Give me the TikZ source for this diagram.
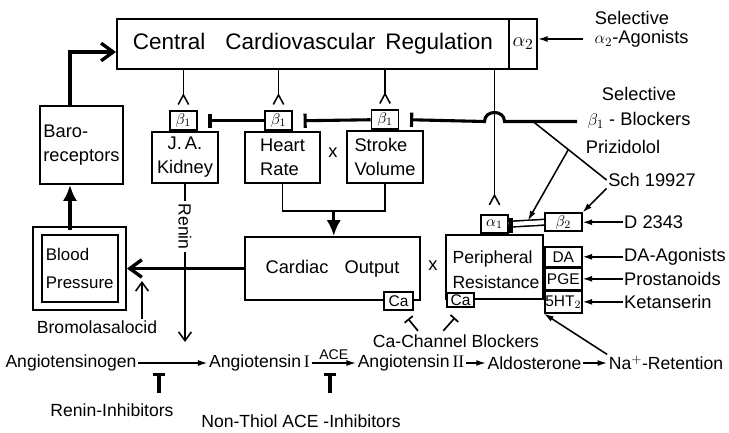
\documentclass[tikz,border=0pt]{standalone}
\usepackage{fontspec}
\setmainfont{Liberation Sans}
\newfontfamily\romfont{Liberation Serif}
\usetikzlibrary{arrows.meta,calc,positioning}
\newcommand\pxu{0.025cm}
\tikzset{wh/.style 2 args={minimum width=#1*\pxu,minimum height=#2*\pxu},
box/.style={draw,line width=1.4pt,inner sep=1pt,align=left,font=\fontsize{13}{17}\selectfont},
rbox/.style={draw,line width=1.1pt,inner sep=0pt,fill=white,font=\fontsize{11}{11}\selectfont},
lab/.style={inner sep=1pt,font=\fontsize{13}{18}\selectfont},
blab/.style={inner sep=1pt,font=\fontsize{12.5}{15}\selectfont},
conn/.style={line width=1.1pt},
sarr/.style={line width=1.1pt,-{Latex[length=2.4mm,width=1.5mm]}},
oarr/.style={line width=1.1pt,-{Straight Barb[length=2.2mm,width=3.2mm]}},
fat/.style={line width=2.4pt,-{Latex[length=4mm,width=3.6mm]}},
fatb/.style={line width=2.4pt,-{Straight Barb[length=3mm,width=4.4mm]}},
recep/.style={line width=1.1pt,-{Straight Barb[reversed,length=2.4mm,width=2.6mm]}},
blk/.style={line width=2.2pt,-{Bar[width=3.6mm]}},
tinh/.style={line width=2.2pt,-{Bar[width=3mm]}},
tinhs/.style={line width=1.2pt,-{Bar[width=2.6mm]}}}
\begin{document}
\begin{tikzpicture}[x=0.025cm,y=-0.025cm]
\useasboundingbox(0,0)rectangle(729,433);
\node[box,wh={392}{50},font=\fontsize{16}{16}\selectfont](cen)at(313,44){Central\hspace{5mm}Cardiovascular\hspace{2.5mm}Regulation};
\node[box,wh={28}{50},inner sep=0pt,font=\fontsize{15}{15}\selectfont](a2)at(523,44){$\alpha_2$};
\node[box,wh={83}{78}](baro)at(81.5,145){Baro-\\receptors};
\node[box,wh={66}{51},align=center](kid)at(185,157.5){J.\,A.\\Kidney};
\node[box,wh={75}{51}](hr)at(282.5,157.5){Heart\\Rate};
\node[box,wh={76}{52}](sv)at(385,157){Stroke\\Volume};
\node[rbox,wh={27}{19},anchor=south](kb)at([xshift=-.4mm]kid.north){$\beta_1$};
\node[rbox,wh={27}{19},anchor=south](hb)at([xshift=-1mm]hr.north){$\beta_1$};
\node[rbox,wh={27}{19},anchor=south](sb)at(sv.north){$\beta_1$};
\node[lab](x1)at(333,153){x};
\node[box,wh={175}{63}](co)at(332.5,268.5){Cardiac\hspace{4mm}Output};
\node[rbox,wh={29}{18}](coca)at(398.5,301){Ca};
\node[lab](x2)at(433,266){x};
\node[box,wh={97}{64}](pr)at(494.5,267){};
\node[blab,align=left,font=\fontsize{12.5}{17.5}\selectfont](prt)at(496,270){Peripheral\\Resistance};
\node[rbox,wh={27}{14}](prca)at(460.5,300){Ca};
\node[rbox,wh={27}{18},anchor=south](a1)at(pr.north){$\alpha_1$};
\node[rbox,wh={37}{18},anchor=south west](b2)at([yshift=.5mm]pr.north east){$\beta_2$};
\node[rbox,wh={37}{20},anchor=north west](da)at([yshift=-3mm]pr.north east){DA};
\node[rbox,wh={37}{21},anchor=north west](pge)at(da.south west){PGE};
\node[rbox,wh={37}{22},anchor=north west](ht)at(pge.south west){5HT$_2$};
\node[box,double,double distance=4.5pt,wh={84.5}{75},font=\fontsize{12}{20}\selectfont](bp)at(79.75,268.5){Blood\\Pressure};
\node[lab](sel2)at(632,18){Selective};
\node[lab,anchor=west](a2ag)at(593,39){$\alpha_2$-Agonists};
\node[lab,align=center](b1bl)at(639,108){Selective\\$\beta_1$ - Blockers};
\node[lab](priz)at(623,147){Prizidolol};
\node[lab](sch)at(652,180){Sch 19927};
\node[lab,anchor=west](d23)at([xshift=10mm]b2.east){D 2343};
\node[lab,anchor=west](daag)at([xshift=10mm]da.east){DA-Agonists};
\node[lab,anchor=west](pros)at([xshift=10mm]pge.east){Prostanoids};
\node[lab,anchor=west](ket)at([xshift=10mm]ht.east){Ketanserin};
\node[blab](brom)at(97,327){Bromolasalocid};
\node[blab](ccb)at(456,341){Ca-Channel Blockers};
\node[blab](ago)at(71,363){Angiotensinogen};
\node[blab](at1)at(259.5,363){Angiotensin\,{\romfont I}};
\node[blab](at2)at(411,363){Angiotensin\,{\romfont II}};
\node[blab](ald)at(534.5,363){Aldosterone};
\node[blab](nar)at(666,363){Na$^+$-Retention};
\node[blab](rinh)at(112,410){Renin-Inhibitors};
\node[blab](ntinh)at(301,421){Non-Thiol ACE -Inhibitors};
\coordinate(bx)at(70,0);\coordinate(bpi)at(142,281);\coordinate(ren)at(185,342);
\coordinate(bl)at(577,121.5);\coordinate(pj)at(533,121.5);\coordinate(hx)at(a1.north|-bl);
\coordinate(t1)at(159,373);\coordinate(t2)at(330,373);
\coordinate(hsv)at($(hr.south)!.5!(sv.south)+(0,27)$);
\draw[fatb](bx|-baro.north)|-([yshift=-2mm]cen.west);
\draw[fat](bx|-bp.north)--(bx|-baro.south);
\draw[fatb,shorten >=1mm](co.west)--(bp.east|-co.west);
\draw[conn](hr.south)--++(0,27)-|(sv.south);\draw[fat](hsv)--(hsv|-co.north);
\foreach \r in {kb,hb,sb}{\draw[recep](\r.north|-cen.south)--([yshift=1.3mm]\r.north);}
\draw[recep](a1.north|-cen.south)--([yshift=2.2mm]a1.north);
\draw[blk](bl)--([xshift=2.5mm]hx)..controls+(0,3mm)and+(0,3mm)..([xshift=-2.5mm]hx)--([xshift=2.7mm]sb.east);
\draw[blk](sb.west)--([xshift=2.7mm]hb.east);\draw[blk](hb.west)--([xshift=2.7mm]kb.east);
\draw[conn,double,double distance=3pt](b2.west)--(a1.east);
\draw[line width=2.4pt]([xshift=1.5pt,yshift=-.8mm]a1.north east)--([xshift=1.5pt,yshift=.3mm]a1.south east);
\draw[conn](pj)--(sch.west);
\draw[sarr,shorten >=.8mm]($(pj)!.48!(sch.west)$)--($(a1.east)!.5!(b2.west)$);
\draw[sarr](sch.south west)--(b2.north east);
\draw[sarr,shorten <=2.5mm](a2ag.west)--(a2ag.west-|a2.east);
\foreach \a/\b in {d23/b2,daag/da,pros/pge,ket/ht}{\draw[sarr](\a)--(\b);}
\draw[sarr](nar.north west)--(ht.south west);
\draw[oarr](kid.south)--node[pos=.27,fill=white,rotate=-90,blab,inner sep=2pt](renl){Renin}(kid.south|-ren);
\draw[oarr](bpi|-brom.north)--(bpi);
\draw[sarr](ago)--(at1);\draw[sarr](at1)--node[above=1pt,inner sep=1pt,font=\fontsize{10}{10}\selectfont](ace){ACE}(at2);
\draw[sarr](at2)--(ald);\draw[sarr](ald)--(nar);
\draw[tinh]([yshift=-5mm]t1)--(t1);\draw[tinh]([yshift=-5mm]t2)--(t2);
\draw[tinhs]([xshift=-9.5mm,yshift=.5mm]ccb.north)--([xshift=2.4mm,yshift=-2mm]coca.south);
\draw[tinhs]([xshift=-3.2mm,yshift=.5mm]ccb.north)--([xshift=-1.4mm,yshift=-2.5mm]prca.south);
\end{tikzpicture}
\end{document}
